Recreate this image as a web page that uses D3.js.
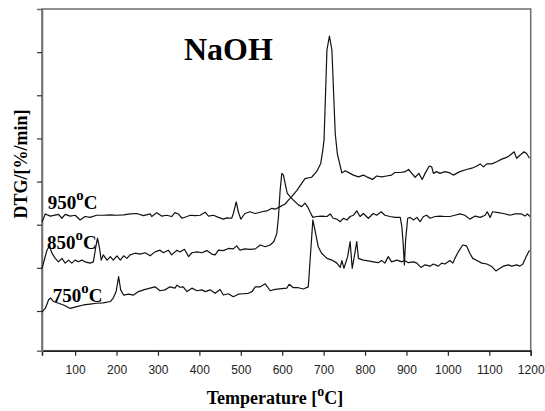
<!DOCTYPE html>
<html>
<head>
<meta charset="utf-8">
<script src="https://cdn.jsdelivr.net/npm/d3@7"></script>
<style>
  body { margin: 0; background: #fff; }
  svg { display: block; }
</style>
</head>
<body>
<svg id="chart" width="545" height="411"></svg>
<script>
// temperatures in C, DTG in axis units (one tick = 1)
var xTicks = [100, 200, 300, 400, 500, 600, 700, 800, 900, 1000, 1100, 1200];
var yTicks = [1, 2, 3, 4, 5, 6, 7];
var seriesNames = ["950", "850", "750"];

var s950 = [[20,3.06],[28,3.25],[40,3.20],[60,3.24],[68,3.15],[76,3.24],[88,3.20],[100,3.22],[112,3.11],[124,3.19],
  [136,3.17],[152,3.22],[168,3.22],[185,3.23],[201,3.22],[217,3.23],[233,3.25],[249,3.26],[265,3.21],[281,3.25],
  [285,3.19],[297,3.28],[309,3.20],[321,3.22],[333,3.19],[341,3.28],[349,3.25],[358,3.15],[370,3.19],[378,3.22],
  [390,3.21],[402,3.22],[414,3.29],[422,3.20],[434,3.22],[446,3.17],[458,3.13],[466,3.16],[478,3.15],[482,3.26],
  [489,3.53],[494,3.30],[500,3.13],[510,3.26],[522,3.30],[535,3.26],[551,3.30],[563,3.32],[575,3.38],[583,3.36],
  [595,3.42],[607,3.48],[615,3.57],[623,3.65],[635,3.79],[647,3.96],[655,4.07],[671,4.10],[683,4.23],[693,4.42],
  [698,4.73],[701,4.96],[708,7.05],[714,7.37],[720,7.05],[728,5.12],[733,4.65],[744,4.20],[752,4.25],[764,4.19],
  [772,4.15],[784,4.11],[796,4.15],[804,4.11],[818,4.05],[828,4.13],[840,4.11],[852,4.13],[864,4.15],[872,4.21],
  [885,4.21],[897,4.23],[905,4.28],[913,4.19],[921,4.10],[930,4.19],[938,4.05],[945,4.19],[955,4.36],[961,4.34],
  [965,4.19],[973,4.23],[981,4.19],[993,4.23],[1005,4.20],[1013,4.15],[1029,4.23],[1045,4.28],[1058,4.31],[1070,4.36],
  [1078,4.41],[1086,4.34],[1094,4.41],[1106,4.41],[1118,4.46],[1130,4.52],[1142,4.56],[1150,4.61],[1160,4.69],[1166,4.54],
  [1174,4.61],[1184,4.69],[1190,4.65],[1197,4.54]];

var s850 = [[20,1.99],[32,2.41],[38,2.51],[44,2.34],[52,2.22],[60,2.14],[68,2.22],[76,2.11],[84,2.18],[92,2.11],
  [100,2.18],[108,2.14],[116,2.18],[124,2.14],[136,2.11],[144,2.14],[150,2.49],[154,2.69],[159,2.45],[163,2.18],
  [168,2.30],[177,2.18],[185,2.26],[192,2.18],[201,2.28],[209,2.18],[217,2.28],[225,2.22],[233,2.30],[245,2.34],
  [257,2.32],[269,2.35],[281,2.28],[293,2.37],[305,2.41],[313,2.35],[325,2.41],[333,2.30],[346,2.41],[353,2.37],
  [364,2.43],[374,2.26],[382,2.35],[394,2.37],[406,2.35],[418,2.40],[430,2.32],[438,2.30],[446,2.41],[458,2.40],
  [470,2.45],[482,2.44],[490,2.51],[498,2.41],[510,2.44],[522,2.43],[535,2.44],[547,2.53],[559,2.49],[571,2.53],
  [580,2.61],[587,2.80],[591,3.19],[595,3.80],[599,4.19],[603,4.15],[607,3.96],[612,3.73],[619,3.65],[627,3.57],
  [639,3.46],[647,3.42],[655,3.50],[661,3.42],[667,3.30],[674,3.17],[683,3.19],[695,3.20],[708,3.19],[716,3.25],
  [723,3.15],[732,3.13],[740,3.07],[748,3.15],[756,3.11],[764,3.19],[772,3.22],[780,3.32],[788,3.19],[796,3.26],
  [808,3.15],[820,3.26],[828,3.22],[839,3.30],[848,3.22],[860,3.19],[872,3.17],[885,3.17],[889,2.95],[892,2.57],
  [895,2.07],[898,2.65],[903,3.15],[909,3.17],[917,3.11],[925,3.17],[933,3.07],[941,3.19],[949,3.22],[957,3.15],
  [969,3.19],[981,3.20],[993,3.19],[1005,3.19],[1017,3.22],[1029,3.25],[1041,3.22],[1053,3.13],[1066,3.20],[1078,3.17],
  [1090,3.22],[1095,3.30],[1102,3.17],[1108,3.30],[1122,3.28],[1134,3.26],[1150,3.22],[1162,3.25],[1178,3.25],[1186,3.20],
  [1192,3.25],[1198,3.19]];

var s750 = [[20,0.98],[28,1.06],[36,1.26],[41,1.30],[48,1.22],[60,1.18],[72,1.14],[88,1.06],[104,1.10],[120,1.14],
  [136,1.16],[152,1.18],[168,1.19],[185,1.22],[192,1.30],[199,1.45],[205,1.80],[210,1.49],[217,1.37],[229,1.39],
  [241,1.37],[253,1.45],[265,1.49],[281,1.53],[293,1.56],[305,1.47],[317,1.49],[329,1.56],[341,1.53],[346,1.60],
  [353,1.55],[361,1.56],[370,1.45],[382,1.53],[394,1.47],[406,1.49],[414,1.45],[426,1.49],[438,1.41],[450,1.50],
  [458,1.37],[470,1.40],[482,1.33],[494,1.39],[506,1.40],[518,1.41],[527,1.45],[535,1.56],[547,1.56],[559,1.63],
  [571,1.47],[583,1.50],[599,1.52],[611,1.53],[617,1.62],[627,1.54],[639,1.54],[651,1.51],[663,1.56],[669,2.41],
  [674,3.11],[679,2.88],[687,2.49],[695,2.34],[708,2.22],[720,2.18],[732,2.11],[740,2.01],[744,2.17],[749,1.99],
  [758,2.26],[764,2.61],[769,1.99],[774,2.26],[780,2.61],[784,2.22],[796,2.18],[808,2.16],[820,2.14],[832,2.12],
  [840,2.17],[848,2.11],[856,2.26],[864,2.14],[877,2.18],[889,2.14],[895,2.17],[905,2.12],[917,2.14],[925,2.11],
  [935,2.01],[945,2.07],[957,2.04],[965,2.09],[977,2.04],[985,2.11],[993,2.09],[1005,2.17],[1012,2.11],[1017,2.22],
  [1025,2.37],[1036,2.53],[1045,2.51],[1053,2.34],[1060,2.22],[1070,2.17],[1082,2.11],[1094,2.09],[1106,2.03],[1116,1.93],
  [1126,1.99],[1134,2.04],[1146,2.07],[1154,2.04],[1166,2.07],[1174,2.04],[1181,2.09],[1189,2.26],[1197,2.41]];

var allSeries = [s950, s850, s750];
// where each curve's label sits, in data units
var labelPos = [[34, 3.37], [32, 2.44], [46, 1.21]];

var svg = d3.select("#chart");
var plotL = 42, plotT = 9, plotR = 530.7, plotB = 350.7;

var x = d3.scaleLinear().domain([20, 1200]).range([plotL, plotR]);
var y = d3.scaleLinear().domain([0.08, 8]).range([plotB, plotT]);

// frame
svg.append("rect")
  .attr("x", plotL).attr("y", plotT)
  .attr("width", plotR - plotL).attr("height", plotB - plotT)
  .attr("fill", "none")
  .attr("stroke", "#6e6e6e")
  .attr("stroke-width", 1.5);

var xAxis = svg.append("g")
  .attr("transform", "translate(0," + plotB + ")")
  .call(d3.axisBottom(x).tickValues(xTicks).tickSize(5).tickPadding(10).tickFormat(d3.format("d")));
xAxis.select(".domain").attr("stroke", "#222").attr("stroke-width", 1.5);
xAxis.selectAll(".tick line").attr("stroke", "#222").attr("stroke-width", 1.2);
xAxis.selectAll("text")
  .attr("font-family", "Liberation Sans, Arial, sans-serif")
  .attr("font-size", 12)
  .attr("fill", "#222");

var yAxis = svg.append("g")
  .attr("transform", "translate(" + plotL + ",0)")
  .call(d3.axisLeft(y).tickValues(yTicks).tickSize(5).tickFormat(""));
yAxis.select(".domain").attr("stroke", "#6e6e6e").attr("stroke-width", 1.5);
yAxis.selectAll(".tick line").attr("stroke", "#333").attr("stroke-width", 1.2);

var line = d3.line()
  .x(function (d) { return x(d[0]); })
  .y(function (d) { return y(d[1]); });

for (var i = 0; i < allSeries.length; i++) {
  svg.append("path")
    .datum(allSeries[i])
    .attr("d", line)
    .attr("fill", "none")
    .attr("stroke", "#111")
    .attr("stroke-width", 1.2)
    .attr("stroke-linejoin", "round");
}

var serif = "Liberation Serif, Times New Roman, serif";

function degLabel(g, main, size) {
  g.append("tspan").text(main);
  g.append("tspan").text("o").attr("font-size", size * 0.78).attr("dy", -size * 0.45);
  g.append("tspan").text("C").attr("dy", size * 0.45);
}

for (var i = 0; i < seriesNames.length; i++) {
  var t = svg.append("text")
    .attr("x", x(labelPos[i][0]))
    .attr("y", y(labelPos[i][1]))
    .attr("font-family", serif)
    .attr("font-weight", "bold")
    .attr("font-size", 19)
    .attr("fill", "#000");
  degLabel(t, seriesNames[i], 19);
}

svg.append("text")
  .attr("x", 184).attr("y", 60)
  .attr("font-family", serif)
  .attr("font-weight", "bold")
  .attr("font-size", 32)
  .text("NaOH");

var xt = svg.append("text")
  .attr("x", 275).attr("y", 404)
  .attr("text-anchor", "middle")
  .attr("font-family", serif)
  .attr("font-weight", "bold")
  .attr("font-size", 18);
xt.append("tspan").text("Temperature [");
xt.append("tspan").text("o").attr("font-size", 14).attr("dy", -8);
xt.append("tspan").text("C]").attr("dy", 8);

svg.append("text")
  .attr("transform", "translate(27,164) rotate(-90)")
  .attr("text-anchor", "middle")
  .attr("font-family", serif)
  .attr("font-weight", "bold")
  .attr("font-size", 18)
  .text("DTG/[%/min]");
</script>
</body>
</html>
